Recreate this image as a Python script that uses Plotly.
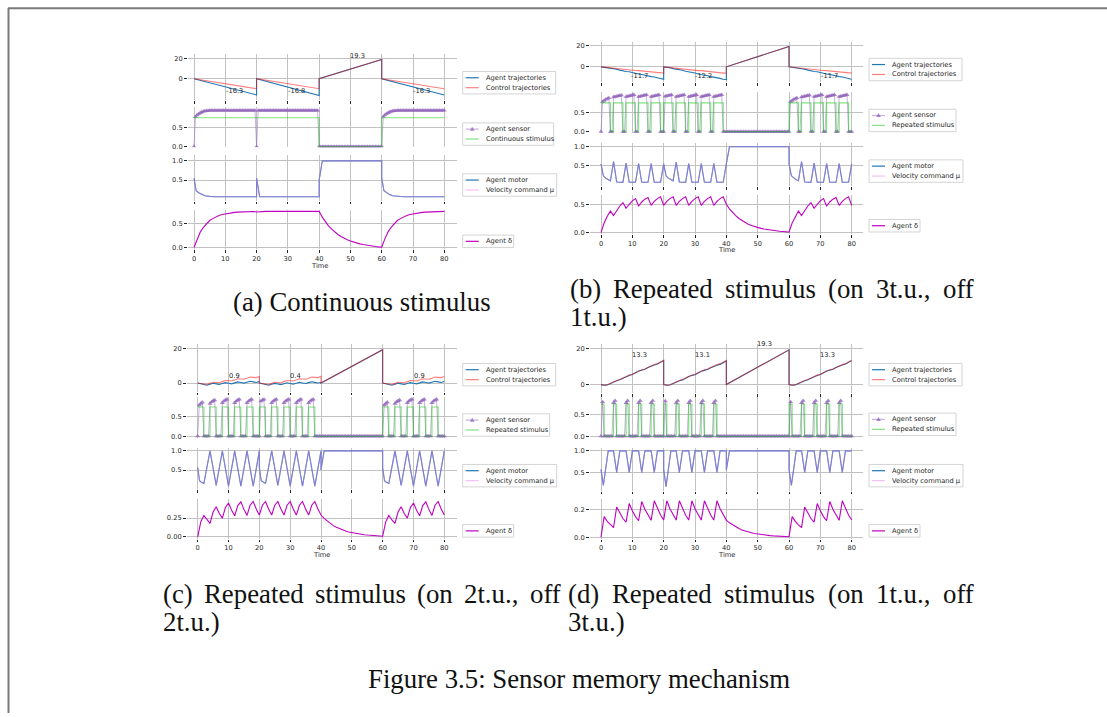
import plotly.graph_objects as go

W, H = 1107, 717

# =========================== DATA ===========================
T_INT = list(range(81))                       # delta sampling (time units)
T_HALF = [i / 2 for i in range(161)]           # sensor sampling
T_SEG = list(range(0, 21)) + list(range(20, 41)) + [40, 60] + list(range(60, 81))
T_A_TRAJ = [0, 20, 20, 40, 40, 60, 60, 80]
X_TICKS = [0, 10, 20, 30, 40, 50, 60, 70, 80]

# ---------- (a) continuous stimulus ----------
A_AGENT_TRAJ = [0, -16.3, 0, -16.8, 0, 19.3, 0, -16.3]
A_CONTROL_TRAJ = [0, -10.0, 0, -10.0, 0, 19.3, 0, -10.0]
A_SENSOR = [
    0, 0.78, 0.82, 0.85, 0.88, 0.9, 0.915, 0.925, 0.93, 0.935,
    0.94, 0.94, 0.94, 0.94, 0.94, 0.94, 0.94, 0.94, 0.94, 0.94,
    0.94, 0.94, 0.94, 0.94, 0.94, 0.94, 0.94, 0.94, 0.94, 0.94,
    0.94, 0.94, 0.94, 0.94, 0.94, 0.94, 0.94, 0.94, 0.94, 0.94,
    0,
    0.94, 0.94, 0.94, 0.94, 0.94, 0.94, 0.94, 0.94, 0.94, 0.94,
    0.94, 0.94, 0.94, 0.94, 0.94, 0.94, 0.94, 0.94, 0.94, 0.94,
    0.94, 0.94, 0.94, 0.94, 0.94, 0.94, 0.94, 0.94, 0.94, 0.94,
    0.94, 0.94, 0.94, 0.94, 0.94, 0.94, 0.94, 0.94, 0.94,
    0, 0, 0, 0, 0, 0, 0, 0, 0, 0,
    0, 0, 0, 0, 0, 0, 0, 0, 0, 0,
    0, 0, 0, 0, 0, 0, 0, 0, 0, 0,
    0, 0, 0, 0, 0, 0, 0, 0, 0, 0,
    0, 0.78, 0.82, 0.85, 0.88, 0.9, 0.915, 0.925, 0.93, 0.935,
    0.94, 0.94, 0.94, 0.94, 0.94, 0.94, 0.94, 0.94, 0.94, 0.94,
    0.94, 0.94, 0.94, 0.94, 0.94, 0.94, 0.94, 0.94, 0.94, 0.94,
    0.94, 0.94, 0.94, 0.94, 0.94, 0.94, 0.94, 0.94, 0.94, 0.94,
    0.94,
]
A_STIM_T = [0, 40, 60, 80]
A_STIM = [0.75, 0, 0.75, 0.75]
A_MOTOR_T = [0, 0.7, 1.5, 2.5, 3.5, 5, 7, 20, 20, 21, 40, 40, 41, 60, 60, 60.7, 61.5, 62.5, 63.5, 65, 67, 80]
A_MOTOR = [0.55, 0.22, 0.17, 0.12, 0.09, 0.075, 0.065, 0.065, 0.55, 0.065, 0.065, 0.5, 1.0, 1.0,
           0.55, 0.22, 0.17, 0.12, 0.09, 0.075, 0.065, 0.065]
A_DELTA = [
    0, 0.18, 0.32, 0.42, 0.5, 0.56, 0.6, 0.64, 0.665, 0.685,
    0.7, 0.712, 0.722, 0.73, 0.735, 0.74, 0.743, 0.745, 0.747, 0.748,
    0.738, 0.745, 0.748, 0.75, 0.75, 0.75, 0.75, 0.75, 0.75, 0.75,
    0.75, 0.75, 0.75, 0.75, 0.75, 0.75, 0.75, 0.75, 0.75, 0.75,
    0.75, 0.63, 0.53, 0.45, 0.38, 0.32, 0.27, 0.23, 0.19, 0.16,
    0.135, 0.112, 0.093, 0.077, 0.063, 0.05, 0.04, 0.03, 0.022, 0.015,
    0.01, 0.18, 0.32, 0.42, 0.5, 0.56, 0.6, 0.64, 0.665, 0.685,
    0.7, 0.712, 0.722, 0.73, 0.735, 0.74, 0.743, 0.745, 0.747, 0.748,
    0.75,
]
A_LABELS = [(13.1, -12.4, '-16.3'), (32.6, -12.4, '-16.8'), (52.3, 23.3, '19.3'), (72.8, -12.4, '-16.3')]

# ---------- (b) on 3 t.u., off 1 t.u. ----------
B_AGENT_TRAJ = [
    0, -0.31, -0.9, -1.62, -1.9, -2.27, -3.12, -3.98, -4.35, -4.72, -5.57,
    -6.43, -6.8, -7.17, -8.02, -8.88, -9.25, -9.62, -10.47, -11.33, -11.7,
    0, -0.32, -0.94, -1.69, -1.98, -2.37, -3.25, -4.15, -4.54, -4.92, -5.81,
    -6.7, -7.09, -7.48, -8.36, -9.26, -9.65, -10.03, -10.92, -11.81, -12.2,
    0, 19.3,
    0, -0.31, -0.9, -1.62, -1.9, -2.27, -3.12, -3.98, -4.35, -4.72, -5.57,
    -6.43, -6.8, -7.17, -8.02, -8.88, -9.25, -9.62, -10.47, -11.33, -11.7,
]
B_CONTROL_TRAJ = [
    0, -0.38, -0.76, -1.14, -1.18, -1.56, -1.94, -2.32, -2.36, -2.74, -3.12,
    -3.5, -3.54, -3.92, -4.3, -4.68, -4.72, -5.1, -5.48, -5.86, -5.9,
    0, -0.38, -0.77, -1.15, -1.2, -1.58, -1.96, -2.35, -2.39, -2.77, -3.16,
    -3.54, -3.58, -3.97, -4.35, -4.73, -4.78, -5.16, -5.54, -5.92, -5.97,
    0, 19.3,
    0, -0.38, -0.76, -1.14, -1.18, -1.56, -1.94, -2.32, -2.36, -2.74, -3.12,
    -3.5, -3.54, -3.92, -4.3, -4.68, -4.72, -5.1, -5.48, -5.86, -5.9,
]
B_SENSOR = [
    0, 0.78, 0.81, 0.84, 0.86, 0.88, 0, 0,
    0.9, 0.91, 0.92, 0.93, 0.94, 0.95, 0, 0,
    0.91, 0.92, 0.93, 0.94, 0.95, 0.96, 0, 0,
    0.91, 0.92, 0.93, 0.94, 0.95, 0.96, 0, 0,
    0.91, 0.92, 0.93, 0.94, 0.95, 0.96, 0, 0,
    0, 0.92, 0.93, 0.94, 0.95, 0.96, 0, 0,
    0.91, 0.92, 0.93, 0.94, 0.95, 0.96, 0, 0,
    0.91, 0.92, 0.93, 0.94, 0.95, 0.96, 0, 0,
    0.91, 0.92, 0.93, 0.94, 0.95, 0.96, 0, 0,
    0.91, 0.92, 0.93, 0.94, 0.95, 0.96, 0, 0,
    0, 0, 0, 0, 0, 0, 0, 0, 0, 0,
    0, 0, 0, 0, 0, 0, 0, 0, 0, 0,
    0, 0, 0, 0, 0, 0, 0, 0, 0, 0,
    0, 0, 0, 0, 0, 0, 0, 0, 0, 0,
    0, 0.78, 0.81, 0.84, 0.86, 0.88, 0, 0,
    0.9, 0.91, 0.92, 0.93, 0.94, 0.95, 0, 0,
    0.91, 0.92, 0.93, 0.94, 0.95, 0.96, 0, 0,
    0.91, 0.92, 0.93, 0.94, 0.95, 0.96, 0, 0,
    0.91, 0.92, 0.93, 0.94, 0.95, 0.96, 0, 0,
    0,
]
B_STIM_T = [0, 3, 4, 7, 8, 11, 12, 15, 16, 19, 20, 23, 24, 27, 28, 31, 32, 35, 36, 39,
            40, 60, 63, 64, 67, 68, 71, 72, 75, 76, 79, 80]
B_STIM = [0.75, 0, 0.75, 0, 0.75, 0, 0.75, 0, 0.75, 0, 0.75, 0, 0.75, 0, 0.75, 0, 0.75, 0, 0.75, 0,
          0, 0.75, 0, 0.75, 0, 0.75, 0, 0.75, 0, 0.75, 0, 0]
B_MOTOR_T = [0, 0.75, 1.5, 2.2, 3, 4, 5, 7, 8, 9, 11, 12, 13, 15, 16, 17, 19, 20,
             20.75, 21.5, 22.2, 23, 24, 25, 27, 28, 29, 31, 32, 33, 35, 36, 37, 39, 40, 41, 60,
             60, 60.75, 61.5, 62.2, 63, 64, 65, 67, 68, 69, 71, 72, 73, 75, 76, 77, 79, 80]
B_MOTOR = [0.55, 0.24, 0.18, 0.14, 0.11, 0.61, 0.08, 0.07, 0.57, 0.07, 0.07, 0.56, 0.07, 0.07, 0.56, 0.07, 0.07, 0.55,
           0.24, 0.18, 0.14, 0.11, 0.6, 0.08, 0.07, 0.56, 0.07, 0.07, 0.56, 0.07, 0.07, 0.56, 0.07, 0.07, 0.55, 1.0, 1.0,
           0.55, 0.24, 0.18, 0.14, 0.11, 0.61, 0.08, 0.07, 0.57, 0.07, 0.07, 0.56, 0.07, 0.07, 0.56, 0.07, 0.07, 0.55]
B_DELTA = [
    0, 0.17, 0.29, 0.38, 0.30, 0.39, 0.47, 0.53, 0.43, 0.50,
    0.56, 0.60, 0.47, 0.54, 0.59, 0.62, 0.48, 0.55, 0.60, 0.63,
    0.48, 0.55, 0.60, 0.63, 0.48, 0.55, 0.60, 0.63, 0.48, 0.55,
    0.60, 0.63, 0.48, 0.55, 0.60, 0.63, 0.48, 0.55, 0.60, 0.63,
    0.50, 0.42, 0.355, 0.30, 0.25, 0.215, 0.18, 0.15, 0.127, 0.107,
    0.09, 0.076, 0.064, 0.054, 0.045, 0.038, 0.031, 0.025, 0.02, 0.015,
    0.01, 0.17, 0.29, 0.38, 0.30, 0.39, 0.47, 0.53, 0.43, 0.50,
    0.56, 0.60, 0.47, 0.54, 0.59, 0.62, 0.48, 0.55, 0.60, 0.63,
    0.48,
]
B_LABELS = [(12.4, -8.8, '-11.7'), (32.7, -8.8, '-12.2'), (52.3, 25.3, '19.3'), (72.9, -8.8, '-11.7')]

# ---------- (c) on 2 t.u., off 2 t.u. ----------
C_AGENT_TRAJ = [
    0, -0.38, -1.01, -1.27, -0.72, -0.17, -0.52, -0.87, -0.32, 0.23, -0.12,
    -0.47, 0.08, 0.63, 0.28, -0.07, 0.48, 1.03, 0.68, 0.33, 0.88,
    0, -0.38, -1.01, -1.27, -0.74, -0.21, -0.58, -0.95, -0.42, 0.11, -0.26,
    -0.63, -0.1, 0.43, 0.06, -0.31, 0.22, 0.75, 0.38, 0.01, 0.4,
    0, 19.3,
    0, -0.38, -1.01, -1.27, -0.72, -0.17, -0.52, -0.87, -0.32, 0.23, -0.12,
    -0.47, 0.08, 0.63, 0.28, -0.07, 0.48, 1.03, 0.68, 0.33, 0.88,
]
C_CONTROL_TRAJ = [
    0, -0.3, -0.75, -0.85, -0.2, 0.45, 0.3, 0.15, 0.8, 1.45, 1.3,
    1.15, 1.8, 2.45, 2.3, 2.15, 2.8, 3.45, 3.3, 3.15, 3.8,
    0, -0.3, -0.75, -0.85, -0.2, 0.45, 0.3, 0.15, 0.8, 1.45, 1.3,
    1.15, 1.8, 2.45, 2.3, 2.15, 2.8, 3.45, 3.3, 3.15, 3.9,
    0, 19.3,
    0, -0.3, -0.75, -0.85, -0.2, 0.45, 0.3, 0.15, 0.8, 1.45, 1.3,
    1.15, 1.8, 2.45, 2.3, 2.15, 2.8, 3.45, 3.3, 3.15, 3.8,
]
C_SENSOR = [
    0, 0.8, 0.84, 0.87, 0, 0, 0, 0,
    0.84, 0.88, 0.91, 0.93, 0, 0, 0, 0,
    0.86, 0.9, 0.93, 0.95, 0, 0, 0, 0,
    0.86, 0.9, 0.93, 0.95, 0, 0, 0, 0,
    0.86, 0.9, 0.93, 0.95, 0, 0, 0, 0,
    0, 0.9, 0.93, 0.95, 0, 0, 0, 0,
    0.86, 0.9, 0.93, 0.95, 0, 0, 0, 0,
    0.86, 0.9, 0.93, 0.95, 0, 0, 0, 0,
    0.86, 0.9, 0.93, 0.95, 0, 0, 0, 0,
    0.86, 0.9, 0.93, 0.95, 0, 0, 0, 0,
    0, 0, 0, 0, 0, 0, 0, 0, 0, 0,
    0, 0, 0, 0, 0, 0, 0, 0, 0, 0,
    0, 0, 0, 0, 0, 0, 0, 0, 0, 0,
    0, 0, 0, 0, 0, 0, 0, 0, 0, 0,
    0, 0.8, 0.84, 0.87, 0, 0, 0, 0,
    0.84, 0.88, 0.91, 0.93, 0, 0, 0, 0,
    0.86, 0.9, 0.93, 0.95, 0, 0, 0, 0,
    0.86, 0.9, 0.93, 0.95, 0, 0, 0, 0,
    0.86, 0.9, 0.93, 0.95, 0, 0, 0, 0,
    0,
]
C_STIM_T = [0, 2, 4, 6, 8, 10, 12, 14, 16, 18, 20, 22, 24, 26, 28, 30, 32, 34, 36, 38,
            40, 60, 62, 64, 66, 68, 70, 72, 74, 76, 78, 80]
C_STIM = [0.75, 0, 0.75, 0, 0.75, 0, 0.75, 0, 0.75, 0, 0.75, 0, 0.75, 0, 0.75, 0, 0.75, 0, 0.75, 0,
          0, 0.75, 0, 0.75, 0, 0.75, 0, 0.75, 0, 0.75, 0, 0]
C_MOTOR_T = [0, 0.6, 1.2, 2, 4, 6, 8, 10, 12, 14, 16, 18, 20,
             20, 20.6, 21.2, 22, 24, 26, 28, 30, 32, 34, 36, 38, 40, 40, 41, 60,
             60, 60.6, 61.2, 62, 64, 66, 68, 70, 72, 74, 76, 78, 80]
C_MOTOR = [0.56, 0.22, 0.18, 0.15, 1.0, 0.1, 1.0, 0.08, 1.0, 0.08, 1.0, 0.08, 1.0,
           0.56, 0.22, 0.18, 0.15, 1.0, 0.1, 1.0, 0.08, 1.0, 0.08, 1.0, 0.08, 1.0, 0.5, 1.0, 1.0,
           0.56, 0.22, 0.18, 0.15, 1.0, 0.1, 1.0, 0.08, 1.0, 0.08, 1.0, 0.08, 1.0]
C_DELTA = [
    0, 0.2, 0.285, 0.225, 0.18, 0.33, 0.40, 0.31, 0.25, 0.39,
    0.45, 0.355, 0.28, 0.415, 0.465, 0.365, 0.285, 0.42, 0.47, 0.37,
    0.29, 0.42, 0.47, 0.37, 0.29, 0.42, 0.47, 0.37, 0.29, 0.42,
    0.47, 0.37, 0.29, 0.42, 0.47, 0.37, 0.29, 0.42, 0.47, 0.37,
    0.29, 0.245, 0.21, 0.175, 0.15, 0.127, 0.108, 0.092, 0.078, 0.066,
    0.057, 0.048, 0.041, 0.035, 0.03, 0.025, 0.021, 0.018, 0.015, 0.012,
    0.01, 0.2, 0.285, 0.225, 0.18, 0.33, 0.40, 0.31, 0.25, 0.39,
    0.45, 0.355, 0.28, 0.415, 0.465, 0.365, 0.285, 0.42, 0.47, 0.37,
    0.29,
]
C_LABELS = [(11.8, 4.3, '0.9'), (31.8, 4.3, '0.4'), (52.4, 22.9, '19.3'), (71.9, 4.3, '0.9')]

# ---------- (d) on 1 t.u., off 3 t.u. ----------
D_AGENT_TRAJ = [
    0, -0.34, -0.17, 0.73, 1.7, 2.18, 2.67, 3.63, 4.6, 5.09, 5.57,
    6.54, 7.5, 7.99, 8.48, 9.44, 10.4, 10.89, 11.38, 12.34, 13.3,
    0, -0.36, -0.2, 0.7, 1.66, 2.14, 2.62, 3.58, 4.54, 5.02, 5.5,
    6.45, 7.4, 7.88, 8.36, 9.31, 10.26, 10.74, 11.22, 12.16, 13.1,
    0, 19.3,
    0, -0.34, -0.17, 0.73, 1.7, 2.18, 2.67, 3.63, 4.6, 5.09, 5.57,
    6.54, 7.5, 7.99, 8.48, 9.44, 10.4, 10.89, 11.38, 12.34, 13.3,
]
D_CONTROL_TRAJ = [
    0, -0.3, -0.1, 0.85, 1.82, 2.32, 2.82, 3.79, 4.76, 5.26, 5.76,
    6.73, 7.7, 8.2, 8.7, 9.67, 10.64, 11.14, 11.64, 12.55, 13.5,
    0, -0.3, -0.1, 0.85, 1.82, 2.32, 2.82, 3.79, 4.76, 5.26, 5.76,
    6.73, 7.7, 8.2, 8.7, 9.67, 10.64, 11.14, 11.64, 12.55, 13.4,
    0, 19.3,
    0, -0.3, -0.1, 0.85, 1.82, 2.32, 2.82, 3.79, 4.76, 5.26, 5.76,
    6.73, 7.7, 8.2, 8.7, 9.67, 10.64, 11.14, 11.64, 12.55, 13.5,
]
D_SENSOR = [
    0, 0.8, 0, 0, 0, 0, 0, 0,
    0.78, 0.83, 0, 0, 0, 0, 0, 0,
    0.78, 0.83, 0, 0, 0, 0, 0, 0,
    0.78, 0.83, 0, 0, 0, 0, 0, 0,
    0.78, 0.83, 0, 0, 0, 0, 0, 0,
    0, 0.82, 0, 0, 0, 0, 0, 0,
    0.78, 0.83, 0, 0, 0, 0, 0, 0,
    0.78, 0.83, 0, 0, 0, 0, 0, 0,
    0.78, 0.83, 0, 0, 0, 0, 0, 0,
    0.78, 0.83, 0, 0, 0, 0, 0, 0,
    0, 0, 0, 0, 0, 0, 0, 0, 0, 0,
    0, 0, 0, 0, 0, 0, 0, 0, 0, 0,
    0, 0, 0, 0, 0, 0, 0, 0, 0, 0,
    0, 0, 0, 0, 0, 0, 0, 0, 0, 0,
    0, 0.8, 0, 0, 0, 0, 0, 0,
    0.78, 0.83, 0, 0, 0, 0, 0, 0,
    0.78, 0.83, 0, 0, 0, 0, 0, 0,
    0.78, 0.83, 0, 0, 0, 0, 0, 0,
    0.78, 0.83, 0, 0, 0, 0, 0, 0,
    0,
]
D_STIM_T = [0, 1, 4, 5, 8, 9, 12, 13, 16, 17, 20, 21, 24, 25, 28, 29, 32, 33, 36, 37,
            40, 60, 61, 64, 65, 68, 69, 72, 73, 76, 77, 80]
D_STIM = [0.75, 0, 0.75, 0, 0.75, 0, 0.75, 0, 0.75, 0, 0.75, 0, 0.75, 0, 0.75, 0, 0.75, 0, 0.75, 0,
          0, 0.75, 0, 0.75, 0, 0.75, 0, 0.75, 0, 0.75, 0, 0]
D_MOTOR_T = [0, 0.75, 2.3, 4, 5, 6, 8, 9, 10, 12, 13, 14, 16, 17, 18, 20,
             20, 20.75, 22.3, 24, 25, 26, 28, 29, 30, 32, 33, 34, 36, 37, 38, 40, 40, 41, 60,
             60, 60.75, 62.3, 64, 65, 66, 68, 69, 70, 72, 73, 74, 76, 77, 78, 80]
D_MOTOR = [0.57, 0.2, 1.0, 1.0, 0.5, 1.0, 1.0, 0.5, 1.0, 1.0, 0.5, 1.0, 1.0, 0.5, 1.0, 1.0,
           0.57, 0.17, 1.0, 1.0, 0.5, 1.0, 1.0, 0.5, 1.0, 1.0, 0.5, 1.0, 1.0, 0.5, 1.0, 1.0, 0.55, 1.0, 1.0,
           0.57, 0.2, 1.0, 1.0, 0.5, 1.0, 1.0, 0.5, 1.0, 1.0, 0.5, 1.0, 1.0, 0.5, 1.0, 1.0]
D_DELTA = [
    0, 0.15, 0.115, 0.09, 0.07, 0.22, 0.172, 0.136, 0.11, 0.245,
    0.192, 0.15, 0.12, 0.26, 0.203, 0.158, 0.123, 0.265, 0.207, 0.161,
    0.125, 0.265, 0.207, 0.161, 0.125, 0.265, 0.207, 0.161, 0.125, 0.265,
    0.207, 0.161, 0.125, 0.265, 0.207, 0.161, 0.125, 0.265, 0.207, 0.161,
    0.125, 0.105, 0.089, 0.075, 0.063, 0.053, 0.045, 0.038, 0.032, 0.027,
    0.023, 0.019, 0.016, 0.014, 0.012, 0.01, 0.008, 0.007, 0.006, 0.005,
    0.004, 0.15, 0.115, 0.09, 0.07, 0.22, 0.172, 0.136, 0.11, 0.245,
    0.192, 0.15, 0.12, 0.26, 0.203, 0.158, 0.123, 0.265, 0.207, 0.161,
    0.125,
]
D_LABELS = [(12.4, 16.3, '13.3'), (32.3, 16.3, '13.1'), (52.3, 22.7, '19.3'), (72.3, 16.3, '13.3')]

# caption lines: (text, x_left, x_right or None, y_center, mode)
CAPTIONS = [
    ('(a) Continuous stimulus', 362, None, 303, 'center'),
    ('(b) Repeated stimulus (on 3t.u., off', 569, 973, 290, 'justify'),
    ('1t.u.)', 569, None, 318, 'left'),
    ('(c) Repeated stimulus (on 2t.u., off', 162, 560, 597, 'justify'),
    ('2t.u.)', 162, None, 625, 'left'),
    ('(d) Repeated stimulus (on 1t.u., off', 567, 973, 597, 'justify'),
    ('3t.u.)', 567, None, 625, 'left'),
    ('Figure 3.5: Sensor memory mechanism', 579, None, 683, 'center'),
]

# =========================== STYLE / LAYOUT ===========================
COL_AGENT = '#1f77b4'
COL_CONTROL = 'rgba(255,0,0,0.5)'
COL_SENS_LINE = 'rgba(148,103,189,0.5)'
COL_SENS_MARK = 'rgba(148,103,189,0.8)'
COL_STIM = 'rgba(0,200,0,0.5)'
COL_MU = 'rgba(238,130,238,0.5)'
COL_DELTA = '#bf00bf'
TXT = '#262626'
SANS = 'DejaVu Sans'
SERIF = 'Liberation Serif'
FS = 6.7
CAP_FS = 26.8

# Times/Liberation Serif advance widths (per 1000 em) used to justify caption lines
SERIF_W = {' ': 250, '(': 333, ')': 333, ',': 250, '.': 250, ':': 278, 'a': 444, 'b': 500, 'c': 444,
           'd': 500, 'e': 444, 'f': 333, 'g': 500, 'h': 500, 'i': 278, 'l': 278, 'm': 778, 'n': 500,
           'o': 500, 'p': 500, 'r': 333, 's': 389, 't': 278, 'u': 500, 'y': 500, 'C': 667, 'F': 556,
           'R': 667, 'S': 556}

PANELS = [
    dict(traj_t=T_A_TRAJ, agent=A_AGENT_TRAJ, control=A_CONTROL_TRAJ, sensor=A_SENSOR,
         stim_t=A_STIM_T, stim=A_STIM, stim_name='Continuous stimulus',
         motor_t=A_MOTOR_T, motor=A_MOTOR, delta=A_DELTA, labels=A_LABELS,
         dticks=([0, 0.5], ['0.0', '0.5']),
         L=188, R=457, t0=194.0, t80=444.3,
         rows=[(53, 100, 0, 78.3, 20, 58.3), (106.7, 147.3, 0, 146.7, 0.5, 127.3),
               (155, 201, 0.5, 180.3, 1.0, 161), (210, 250, 0, 248.3, 0.5, 224)],
         leg_x=462.7, leg_y=[71, 122.7, 174, 235.7], time_y=266.7),
    dict(traj_t=T_SEG, agent=B_AGENT_TRAJ, control=B_CONTROL_TRAJ, sensor=B_SENSOR,
         stim_t=B_STIM_T, stim=B_STIM, stim_name='Repeated stimulus',
         motor_t=B_MOTOR_T, motor=B_MOTOR, delta=B_DELTA, labels=B_LABELS,
         dticks=([0, 0.5], ['0.0', '0.5']),
         L=590, R=863, t0=601.0, t80=851.7,
         rows=[(41.7, 81.7, 0, 66.3, 20, 45), (91.7, 132.7, 0, 131.7, 0.5, 112.3),
               (143.3, 186.7, 0.5, 166, 1.0, 146.7), (195, 235, 0, 233.3, 0.5, 204.7)],
         leg_x=869, leg_y=[57.7, 109, 160, 220], time_y=251),
    dict(traj_t=T_SEG, agent=C_AGENT_TRAJ, control=C_CONTROL_TRAJ, sensor=C_SENSOR,
         stim_t=C_STIM_T, stim=C_STIM, stim_name='Repeated stimulus',
         motor_t=C_MOTOR_T, motor=C_MOTOR, delta=C_DELTA, labels=C_LABELS,
         dticks=([0, 0.25], ['0.00', '0.25']),
         L=187, R=457, t0=197.7, t80=444.3,
         rows=[(345, 393.3, 0, 384.7, 20, 350), (398.3, 440, 0, 438.3, 0.5, 418.7),
               (450, 491.7, 0.5, 472.3, 1.0, 453), (501.7, 541.7, 0, 539.7, 0.25, 520.7)],
         leg_x=462.7, leg_y=[365, 415.7, 466.7, 527.3], time_y=557.7),
    dict(traj_t=T_SEG, agent=D_AGENT_TRAJ, control=D_CONTROL_TRAJ, sensor=D_SENSOR,
         stim_t=D_STIM_T, stim=D_STIM, stim_name='Repeated stimulus',
         motor_t=D_MOTOR_T, motor=D_MOTOR, delta=D_DELTA, labels=D_LABELS,
         dticks=([0, 0.2], ['0.0', '0.2']),
         L=590, R=863, t0=601.0, t80=851.7,
         rows=[(345, 395, 0, 386.3, 20, 350), (398.3, 440, 0, 438.3, 0.5, 416.7),
               (450, 493.3, 0.5, 474.7, 1.0, 453), (501.7, 541.7, 0, 540, 0.2, 512.3)],
         leg_x=869, leg_y=[365, 415, 466.7, 527.3], time_y=557.7),
]


def px(x):
    return x / W


def py(y):
    return 1 - y / H


def serif_width(s):
    return sum(SERIF_W.get(ch, 500) for ch in s) * CAP_FS / 1000.0


fig = go.Figure()
shapes = []
annots = []
layout_axes = {}


def add_legend(x0, y0, w, entries):
    n = len(entries)
    h = 12.6 + 10 * (n - 1)
    shapes.append(dict(type='rect', xref='paper', yref='paper', x0=px(x0), x1=px(x0 + w),
                       y0=py(y0 + h), y1=py(y0), line=dict(color='#d4d4d4', width=1),
                       fillcolor='white', layer='above'))
    for i, (label, color, marker) in enumerate(entries):
        yc = y0 + 6.3 + 10 * i
        shapes.append(dict(type='line', xref='paper', yref='paper', x0=px(x0 + 3), x1=px(x0 + 16),
                           y0=py(yc), y1=py(yc), line=dict(color=color, width=1.2), layer='above'))
        if marker:
            cx = x0 + 9.5
            path = 'M {},{} L {},{} L {},{} Z'.format(px(cx), py(yc - 2.4), px(cx - 2.3), py(yc + 1.6),
                                                      px(cx + 2.3), py(yc + 1.6))
            shapes.append(dict(type='path', xref='paper', yref='paper', path=path,
                               fillcolor=marker, line=dict(width=0), layer='above'))
        annots.append(dict(x=px(x0 + 21), y=py(yc), xref='paper', yref='paper', text=label,
                           showarrow=False, xanchor='left', yanchor='middle',
                           font=dict(family=SANS, size=FS, color=TXT)))


ax = 0
for p in PANELS:
    k = (p['t80'] - p['t0']) / 80.0
    xr = [(p['L'] - p['t0']) / k, (p['R'] - p['t0']) / k]
    ids = []
    for r, (top, bot, v1, p1, v2, p2) in enumerate(p['rows']):
        ax += 1
        s = (p1 - p2) / (v2 - v1)
        yr = [v1 - (bot - p1) / s, v1 + (p1 - top) / s]
        xn = 'xaxis' if ax == 1 else 'xaxis%d' % ax
        yn = 'yaxis' if ax == 1 else 'yaxis%d' % ax
        xa = 'x' if ax == 1 else 'x%d' % ax
        ya = 'y' if ax == 1 else 'y%d' % ax
        ids.append((xa, ya))
        if r == 0:
            tv, tt = [0, 20], ['0', '20']
        elif r == 1:
            tv, tt = [0, 0.5], ['0.0', '0.5']
        elif r == 2:
            tv, tt = [0.5, 1.0], ['0.5', '1.0']
        else:
            tv, tt = p['dticks']
        layout_axes[xn] = dict(domain=[px(p['L']), px(p['R'])], range=xr, anchor=ya,
                               tickvals=X_TICKS, ticktext=[str(v) for v in X_TICKS],
                               showticklabels=(r == 3), ticks='' if r == 1 else 'outside',
                               ticklen=2.5, tickwidth=1, tickcolor='#222',
                               showgrid=True, gridcolor='#c2c2c2', gridwidth=1.2,
                               zeroline=False, showline=False, fixedrange=True,
                               tickfont=dict(family=SANS, size=FS, color=TXT))
        layout_axes[yn] = dict(domain=[py(bot), py(top)], range=yr, anchor=xa,
                               tickvals=tv, ticktext=tt, ticks='outside', ticklen=3,
                               tickwidth=1, tickcolor='#222',
                               showgrid=True, gridcolor='#c2c2c2', gridwidth=1.2,
                               zeroline=False, showline=False, fixedrange=True,
                               tickfont=dict(family=SANS, size=FS, color=TXT))

    # trajectories
    xa, ya = ids[0]
    fig.add_trace(go.Scatter(x=p['traj_t'], y=p['agent'], mode='lines', name='Agent trajectories',
                             line=dict(color=COL_AGENT, width=1.1), xaxis=xa, yaxis=ya))
    fig.add_trace(go.Scatter(x=p['traj_t'], y=p['control'], mode='lines', name='Control trajectories',
                             line=dict(color=COL_CONTROL, width=1.1), xaxis=xa, yaxis=ya))
    for (t, v, txt) in p['labels']:
        annots.append(dict(x=t, y=v, xref=xa, yref=ya, text=txt, showarrow=False,
                           xanchor='center', yanchor='middle',
                           font=dict(family=SANS, size=FS, color=TXT)))
    # sensor + stimulus
    xa, ya = ids[1]
    fig.add_trace(go.Scatter(x=T_HALF, y=p['sensor'], mode='lines+markers', name='Agent sensor',
                             line=dict(color=COL_SENS_LINE, width=1),
                             marker=dict(symbol='triangle-up', size=4.5, color=COL_SENS_MARK, line=dict(width=0)),
                             xaxis=xa, yaxis=ya))
    fig.add_trace(go.Scatter(x=p['stim_t'], y=p['stim'], mode='lines', name=p['stim_name'],
                             line=dict(color=COL_STIM, width=1.1, shape='hv'), xaxis=xa, yaxis=ya))
    # motor
    xa, ya = ids[2]
    fig.add_trace(go.Scatter(x=p['motor_t'], y=p['motor'], mode='lines', name='Agent motor',
                             line=dict(color=COL_AGENT, width=1.1), xaxis=xa, yaxis=ya))
    fig.add_trace(go.Scatter(x=p['motor_t'], y=p['motor'], mode='lines', name='Velocity command μ',
                             line=dict(color=COL_MU, width=1.1), xaxis=xa, yaxis=ya))
    # delta
    xa, ya = ids[3]
    fig.add_trace(go.Scatter(x=T_INT, y=p['delta'], mode='lines', name='Agent δ',
                             line=dict(color=COL_DELTA, width=1.1), xaxis=xa, yaxis=ya))

    # "Time" label
    annots.append(dict(x=px((p['t0'] + p['t80']) / 2), y=py(p['time_y']), xref='paper', yref='paper',
                       text='Time', showarrow=False, xanchor='center', yanchor='middle',
                       font=dict(family=SANS, size=FS, color=TXT)))

    # legends
    lx = p['leg_x']
    sens_w = 91 if p['stim_name'].startswith('Cont') else 87
    add_legend(lx, p['leg_y'][0], 93, [('Agent trajectories', COL_AGENT, None),
                                       ('Control trajectories', COL_CONTROL, None)])
    add_legend(lx, p['leg_y'][1], sens_w, [('Agent sensor', COL_SENS_LINE, COL_SENS_MARK),
                                           (p['stim_name'], COL_STIM, None)])
    add_legend(lx, p['leg_y'][2], 94, [('Agent motor', COL_AGENT, None),
                                       ('Velocity command μ', COL_MU, None)])
    add_legend(lx, p['leg_y'][3], 51, [('Agent δ', COL_DELTA, None)])

# captions (justified lines are laid out word by word, like LaTeX)
cap_font = dict(family=SERIF, size=CAP_FS, color='#111111')
for (txt, x0, x1, y, mode) in CAPTIONS:
    if mode == 'justify':
        words = txt.split(' ')
        widths = [serif_width(w) for w in words]
        gap = (x1 - x0 - sum(widths)) / (len(words) - 1)
        xpos = x0
        for w, ww in zip(words, widths):
            annots.append(dict(x=px(xpos), y=py(y), xref='paper', yref='paper', text=w, showarrow=False,
                               xanchor='left', yanchor='middle', borderpad=0, font=cap_font))
            xpos += ww + gap
    else:
        annots.append(dict(x=px(x0), y=py(y), xref='paper', yref='paper', text=txt, showarrow=False,
                           xanchor=mode, yanchor='middle', borderpad=0, font=cap_font))

# page frame (top and left edges only)
for (x0, y0, x1, y1) in [(8, 7.3, 1107, 7.3), (8.5, 7, 8.5, 717)]:
    shapes.append(dict(type='line', xref='paper', yref='paper', x0=px(x0), y0=py(y0), x1=px(x1), y1=py(y1),
                       line=dict(color='#7a7a7a', width=2)))

fig.update_layout(width=W, height=H, margin=dict(l=0, r=0, t=0, b=0),
                  paper_bgcolor='white', plot_bgcolor='white', showlegend=False,
                  shapes=shapes, annotations=annots, **layout_axes)

# the page body gets no default margin so the 1107x717 figure fills the window exactly
fig.write_html('out.html', config={'displayModeBar': False},
               post_script="document.body.style.margin='0px';")
